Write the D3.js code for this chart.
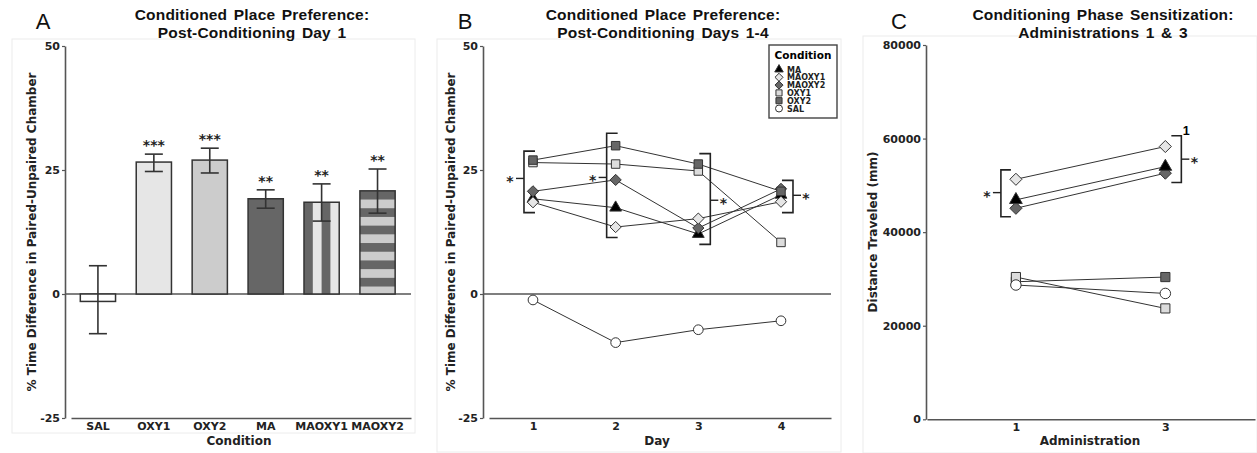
<!DOCTYPE html>
<html>
<head>
<meta charset="utf-8">
<script src="https://cdn.jsdelivr.net/npm/d3@7"></script>
<style>
  body { margin: 0; background: #fff; }
  svg { display: block; }
  .tick text { font-family: "DejaVu Sans", sans-serif; font-weight: bold; font-size: 11px; fill: #222; }
  .title { font-family: "Liberation Sans", Arial, sans-serif; font-weight: bold; font-size: 15.5px; letter-spacing: 0.2px; word-spacing: 2px; fill: #111; text-anchor: middle; }
  .letter { font-family: "Liberation Sans", Arial, sans-serif; font-size: 22px; fill: #111; text-anchor: middle; }
  .axlabel { font-family: "DejaVu Sans", sans-serif; font-weight: bold; font-size: 12px; fill: #222; text-anchor: middle; }
  .star { font-family: "DejaVu Sans", sans-serif; font-weight: bold; font-size: 14px; fill: #222; text-anchor: middle; }
</style>
</head>
<body>
<script>
// ---- data ----
// Panel A: day 1 bar chart
var condsA = ["SAL", "OXY1", "OXY2", "MA", "MAOXY1", "MAOXY2"];
var meanA  = [-1.5, 26.6, 27.0, 19.2, 18.5, 20.8];
var errHiA = [5.7, 28.2, 29.4, 21.0, 22.2, 25.2];
var errLoA = [-8.0, 24.7, 24.4, 17.3, 14.7, 16.3];
var sigA   = ["", "***", "***", "**", "**", "**"];
var yTicksA = [-25, 0, 25, 50];

// Panel B: days 1-4
var days = [1, 2, 3, 4];
var seriesNames = ["MA", "MAOXY1", "MAOXY2", "OXY1", "OXY2", "SAL"];
var maB     = [19.2, 17.4, 12.1, 20.0];
var maoxy1B = [18.5, 13.5, 15.2, 18.6];
var maoxy2B = [20.7, 23.0, 13.3, 21.2];
var oxy1B   = [26.5, 26.2, 24.8, 10.4];
var oxy2B   = [27.0, 29.9, 26.2, 20.7];
var salB    = [-1.2, -9.8, -7.2, -5.4];
// significance brackets: day, bottom, top, star level, side
var bracketDaysB  = [1, 2, 3, 4];
var bracketLoB    = [16.4, 11.4, 10.0, 16.4];
var bracketHiB    = [28.8, 32.4, 28.3, 22.9];
var bracketStarB  = [23.3, 23.5, 18.9, 19.9];
var bracketSideB  = ["left", "left", "right", "right"];

// Panel C: administrations 1 & 3
var admins = [1, 3];
var maC     = [46900, 54000];
var maoxy1C = [51300, 58300];
var maoxy2C = [45100, 52600];
var oxy1C   = [30400, 23700];
var oxy2C   = [29400, 30400];
var salC    = [28700, 26900];
var yTicksC = [0, 20000, 40000, 60000, 80000];
var bracketAdmC = [1, 3];
var bracketLoC  = [43300, 50600];
var bracketHiC  = [53300, 60600];
var bracketStarC = [48450, 55600];
var bracketSideC = ["left", "right"];

// ---- styling ----
var markerFill = { MA: "#000", MAOXY1: "#e6e6e6", MAOXY2: "#666", OXY1: "#dcdcdc", OXY2: "#666", SAL: "#fff" };
var markerType = { MA: "tri", MAOXY1: "dia", MAOXY2: "dia", OXY1: "sq", OXY2: "sq", SAL: "circ" };
var axisColor = "#555";
var plainNum = function(d) { return String(d); };   // hyphen minus, no grouping

function markerPath(type, k) {
	k = k || 1;
	if (type == "dia") {
		var r = 5.6 * k;
		return "M0," + (-r) + "L" + r + ",0L0," + r + "L" + (-r) + ",0Z";
	}
	if (type == "tri") return d3.symbol(d3.symbolTriangle, 60 * k * k)();
	if (type == "sq") return d3.symbol(d3.symbolSquare, 72 * k * k)();
	return d3.symbol(d3.symbolCircle, 74 * k * k)();
}

var svg = d3.select("body").append("svg")
	.attr("width", 1257)
	.attr("height", 453);

svg.append("rect").attr("width", 1257).attr("height", 453).attr("fill", "#fff");

// faint panel frames
[[12, 39, 403, 394], [437, 39, 404, 413], [863, 36, 394, 417]].forEach(function(f) {
	svg.append("rect")
		.attr("x", f[0]).attr("y", f[1]).attr("width", f[2]).attr("height", f[3])
		.attr("fill", "none").attr("stroke", "#ececec").attr("stroke-width", 1);
});

function titles(cx, letterX, line1, line2, letter) {
	svg.append("text").attr("class", "letter").attr("x", letterX).attr("y", 29).text(letter);
	svg.append("text").attr("class", "title").attr("x", cx).attr("y", 20).text(line1);
	svg.append("text").attr("class", "title").attr("x", cx).attr("y", 38).text(line2);
}

function styleAxis(g) {
	g.selectAll(".domain").attr("stroke", axisColor).attr("stroke-width", 1.6);
	g.selectAll(".tick line").attr("stroke", axisColor).attr("stroke-width", 1.2);
}

function yLabel(x, y, txt) {
	svg.append("text")
		.attr("class", "axlabel")
		.attr("transform", "translate(" + x + "," + y + ") rotate(-90)")
		.attr("dy", "0.35em")
		.text(txt);
}

function drawBracket(g, xc, lo, hi, star, side, off, serif) {
	var xv = side == "left" ? xc - off : xc + off;
	var xs = side == "left" ? xv + serif : xv - serif;
	var xd = side == "left" ? xv - 8 : xv + 8;
	var xt = side == "left" ? xv - 14 : xv + 13;
	g.append("path")
		.attr("d", "M" + xs + "," + hi + "H" + xv + "V" + lo + "H" + xs)
		.attr("fill", "none").attr("stroke", "#222").attr("stroke-width", 1.6);
	g.append("line")
		.attr("x1", xv).attr("x2", xd).attr("y1", star).attr("y2", star)
		.attr("stroke", "#222").attr("stroke-width", 1.4);
	g.append("text").attr("class", "star")
		.attr("x", xt).attr("y", star + 8).text("*");
}

// ================= Panel A =================
var yA = d3.scaleLinear().domain([-25, 50]).range([418, 46]);
var xA = d3.scaleBand().domain(condsA).range([71, 411])
	.paddingInner(0.37).paddingOuter(0.225).align(0.37);

var defs = svg.append("defs");
var vp = defs.append("pattern").attr("id", "vstripe").attr("patternUnits", "userSpaceOnUse")
	.attr("x", xA("MAOXY1")).attr("y", 0).attr("width", 17.6).attr("height", 10);
vp.append("rect").attr("width", 8.8).attr("height", 10).attr("fill", "#666");
vp.append("rect").attr("x", 8.8).attr("width", 8.8).attr("height", 10).attr("fill", "#e6e6e6");
var hp = defs.append("pattern").attr("id", "hstripe").attr("patternUnits", "userSpaceOnUse")
	.attr("x", 0).attr("y", yA(meanA[5])).attr("width", 10).attr("height", 17.4);
hp.append("rect").attr("width", 10).attr("height", 8.7).attr("fill", "#666");
hp.append("rect").attr("y", 8.7).attr("width", 10).attr("height", 8.7).attr("fill", "#cccccc");

var barFill = ["#fff", "#e6e6e6", "#cccccc", "#666", "url(#vstripe)", "url(#hstripe)"];

var gA = svg.append("g");
gA.append("line")
	.attr("x1", 65).attr("x2", 411).attr("y1", yA(0)).attr("y2", yA(0))
	.attr("stroke", axisColor).attr("stroke-width", 1.4);

var axA = gA.append("g").attr("transform", "translate(65,0)")
	.call(d3.axisLeft(yA).tickValues(yTicksA).tickFormat(plainNum).tickSize(3).tickSizeOuter(0).tickPadding(2));
styleAxis(axA);
var axAx = gA.append("g").attr("transform", "translate(0,418)")
	.call(d3.axisBottom(xA).tickSize(0).tickSizeOuter(0).tickPadding(4));
styleAxis(axAx);

gA.selectAll(".bar")
	.data(condsA)
	.enter().append("rect")
	.attr("class", "bar")
	.attr("x", function(d) { return xA(d); })
	.attr("width", xA.bandwidth())
	.attr("y", function(d, i) { return yA(Math.max(0, meanA[i])); })
	.attr("height", function(d, i) { return Math.abs(yA(meanA[i]) - yA(0)); })
	.attr("fill", function(d, i) { return barFill[i]; })
	.attr("stroke", "#333")
	.attr("stroke-width", 1.5);

condsA.forEach(function(c, i) {
	var cx = xA(c) + xA.bandwidth() / 2;
	var eb = gA.append("g").attr("stroke", "#333").attr("stroke-width", 1.6);
	eb.append("line").attr("x1", cx).attr("x2", cx).attr("y1", yA(errHiA[i])).attr("y2", yA(errLoA[i]));
	eb.append("line").attr("x1", cx - 9).attr("x2", cx + 9).attr("y1", yA(errHiA[i])).attr("y2", yA(errHiA[i]));
	eb.append("line").attr("x1", cx - 9).attr("x2", cx + 9).attr("y1", yA(errLoA[i])).attr("y2", yA(errLoA[i]));
	gA.append("text").attr("class", "star")
		.attr("x", cx).attr("y", yA(errHiA[i]) - 4)
		.text(sigA[i]);
});

yLabel(32, 232, "% Time Difference in Paired-Unpaired Chamber");
svg.append("text").attr("class", "axlabel").attr("x", 239).attr("y", 445).text("Condition");
titles(252, 43, "Conditioned Place Preference:", "Post-Conditioning Day 1", "A");

// ================= Panel B =================
var yB = d3.scaleLinear().domain([-25, 50]).range([418, 46]);
var xB = d3.scaleLinear().domain([0.468, 4.605]).range([489, 831]);
var valsB = { MA: maB, MAOXY1: maoxy1B, MAOXY2: maoxy2B, OXY1: oxy1B, OXY2: oxy2B, SAL: salB };

var gB = svg.append("g");
gB.append("line")
	.attr("x1", 483).attr("x2", 831).attr("y1", yB(0)).attr("y2", yB(0))
	.attr("stroke", axisColor).attr("stroke-width", 1.4);
var axB = gB.append("g").attr("transform", "translate(483,0)")
	.call(d3.axisLeft(yB).tickValues(yTicksA).tickFormat(plainNum).tickSize(3).tickSizeOuter(0).tickPadding(2));
styleAxis(axB);
var axBx = gB.append("g").attr("transform", "translate(0,418)")
	.call(d3.axisBottom(xB).tickValues(days).tickFormat(plainNum).tickSize(0).tickSizeOuter(0).tickPadding(4));
styleAxis(axBx);

var lineB = d3.line()
	.x(function(d, i) { return xB(days[i]); })
	.y(function(d) { return yB(d); });

seriesNames.forEach(function(s) {
	gB.append("path").attr("d", lineB(valsB[s]))
		.attr("fill", "none").attr("stroke", "#333").attr("stroke-width", 1);
});

bracketDaysB.forEach(function(d, i) {
	drawBracket(gB, xB(d), yB(bracketLoB[i]), yB(bracketHiB[i]), yB(bracketStarB[i]),
		bracketSideB[i], bracketSideB[i] == "left" ? 9 : 12, 11);
});

["MA", "MAOXY2", "MAOXY1", "OXY1", "OXY2", "SAL"].forEach(function(s) {
	gB.selectAll(".m-" + s)
		.data(valsB[s])
		.enter().append("path")
		.attr("transform", function(d, i) { return "translate(" + xB(days[i]) + "," + yB(d) + ")"; })
		.attr("d", markerPath(markerType[s]))
		.attr("fill", markerFill[s])
		.attr("stroke", "#333")
		.attr("stroke-width", 1);
});

// legend
var lg = gB.append("g").attr("transform", "translate(769,45)");
lg.append("rect").attr("width", 68).attr("height", 73)
	.attr("fill", "#fff").attr("stroke", "#444").attr("stroke-width", 1.4);
lg.append("text").attr("x", 34).attr("y", 14)
	.attr("text-anchor", "middle")
	.style("font-family", "DejaVu Sans, sans-serif").style("font-weight", "bold").style("font-size", "10.5px")
	.text("Condition");
seriesNames.forEach(function(s, i) {
	var yy = 24.5 + i * 7.8;
	lg.append("path").attr("transform", "translate(10," + yy + ")")
		.attr("d", markerPath(markerType[s], 0.72))
		.attr("fill", markerFill[s]).attr("stroke", "#333").attr("stroke-width", 1);
	lg.append("text").attr("x", 18).attr("y", yy + 3)
		.style("font-family", "DejaVu Sans, sans-serif").style("font-weight", "bold").style("font-size", "8px")
		.attr("fill", "#222")
		.text(s);
});

yLabel(451, 232, "% Time Difference in Paired-Unpaired Chamber");
svg.append("text").attr("class", "axlabel").attr("x", 657).attr("y", 445).text("Day");
titles(663, 465, "Conditioned Place Preference:", "Post-Conditioning Days 1-4", "B");

// ================= Panel C =================
var yC = d3.scaleLinear().domain([0, 80000]).range([419.3, 45]);
var xC = d3.scaleLinear().domain([-0.19, 4.2]).range([927, 1255]);
var valsC = { MA: maC, MAOXY1: maoxy1C, MAOXY2: maoxy2C, OXY1: oxy1C, OXY2: oxy2C, SAL: salC };

var gC = svg.append("g");
var axC = gC.append("g").attr("transform", "translate(926,0)")
	.call(d3.axisLeft(yC).tickValues(yTicksC).tickFormat(plainNum).tickSize(3).tickSizeOuter(0).tickPadding(2));
styleAxis(axC);
var axCx = gC.append("g").attr("transform", "translate(0,419.3)")
	.call(d3.axisBottom(xC).tickValues(admins).tickFormat(plainNum).tickSize(0).tickSizeOuter(0).tickPadding(4));
styleAxis(axCx);

var lineC = d3.line()
	.x(function(d, i) { return xC(admins[i]); })
	.y(function(d) { return yC(d); });

seriesNames.forEach(function(s) {
	gC.append("path").attr("d", lineC(valsC[s]))
		.attr("fill", "none").attr("stroke", "#333").attr("stroke-width", 1);
});

bracketAdmC.forEach(function(a, i) {
	drawBracket(gC, xC(a), yC(bracketLoC[i]), yC(bracketHiC[i]), yC(bracketStarC[i]),
		bracketSideC[i], bracketSideC[i] == "left" ? 15 : 16, 10);
});
svg.append("text")
	.attr("x", xC(3) + 21).attr("y", yC(bracketHiC[1]) - 1)
	.attr("text-anchor", "middle")
	.style("font-family", "Liberation Sans, Arial, sans-serif").style("font-weight", "bold").style("font-size", "12.5px")
	.text("1");

["OXY2", "OXY1", "SAL", "MAOXY2", "MA", "MAOXY1"].forEach(function(s) {
	gC.selectAll(".m-" + s)
		.data(valsC[s])
		.enter().append("path")
		.attr("transform", function(d, i) { return "translate(" + xC(admins[i]) + "," + yC(d) + ")"; })
		.attr("d", markerPath(markerType[s], 1.08))
		.attr("fill", markerFill[s])
		.attr("stroke", "#333")
		.attr("stroke-width", 1);
});

yLabel(873, 232, "Distance Traveled (mm)");
svg.append("text").attr("class", "axlabel").attr("x", 1090).attr("y", 445).text("Administration");
titles(1103, 899, "Conditioning Phase Sensitization:", "Administrations 1 & 3", "C");
</script>
</body>
</html>
